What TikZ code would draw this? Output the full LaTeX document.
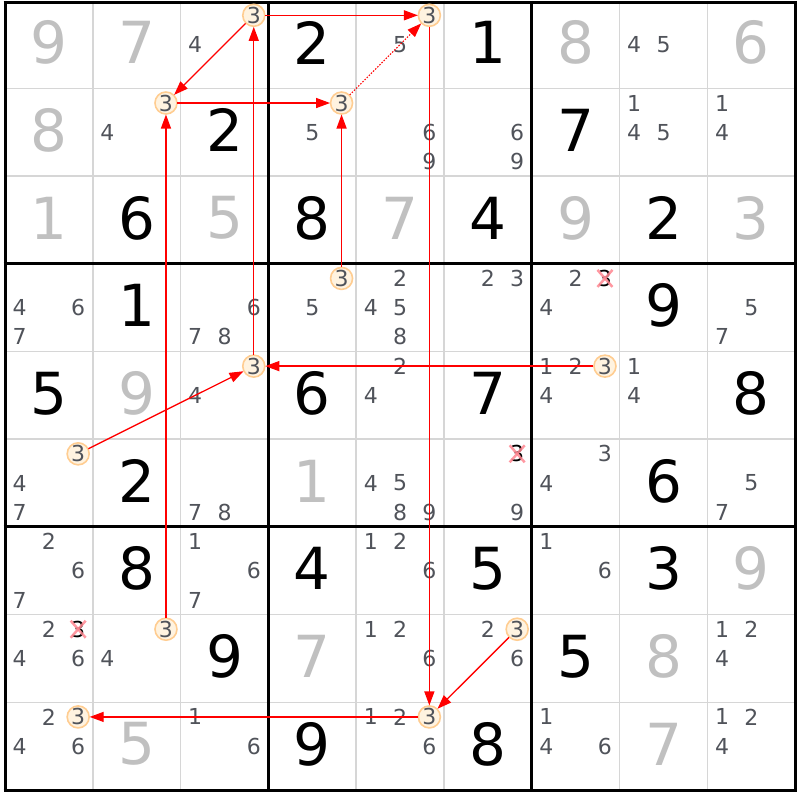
\documentclass[tikz,border=0pt]{standalone}
\usepackage{fontspec}
\setmainfont{DejaVu Sans}
\usetikzlibrary{arrows.meta}
\definecolor{candc}{RGB}{80,83,90}
\definecolor{solc}{RGB}{192,192,192}
\definecolor{thinc}{RGB}{214,214,214}
\definecolor{hlfill}{RGB}{255,243,224}
\definecolor{hldraw}{RGB}{255,205,145}
\definecolor{xc}{RGB}{255,135,145}
\definecolor{linkc}{RGB}{255,0,0}
\newcommand\sdkW{87.8}
\newcommand\sdkH{87.7}
\tikzset{
  given/.style={font=\fontsize{58}{58}\selectfont, text=black, inner sep=0pt},
  solved/.style={given, text=solc},
  cand/.style={font=\fontsize{22}{22}\selectfont, text=candc, inner sep=0pt},
  hl/.style={cand, circle, draw=hldraw, fill=hlfill, line width=1.6pt, minimum size=22pt, inner sep=0pt, outer sep=0.5pt},
  elim/.style={cand, text=black},
  xmark/.style={draw=xc, line width=2.5pt, opacity=0.85},
  link/.style={draw=linkc, line width=1.3pt, -{Triangle[length=14pt,width=10pt]}},
  weak/.style={link, line width=1.1pt, dash pattern=on 1.5pt off 1.5pt},
  thinline/.style={draw=thinc, line width=1.6pt},
  thickline/.style={draw=black, line width=3pt},
}
\newcommand\sdkBig[4]{\node[#1] (v-#2-#3) at ({5+\sdkW*(#3-0.5)},{0.7+\sdkH*(#2-0.5)-2}) {#4};}
\newcommand\sdkCands[3]{%
  \foreach \d in {#3} {
    \pgfmathtruncatemacro\cx{mod(\d-1,3)}
    \pgfmathtruncatemacro\cy{div(\d-1,3)}
    \node[cand] (c-#1-#2-\d) at ({5+\sdkW*(#2-1)+\sdkW*(2*\cx+1)/6},{0.7+\sdkH*(#1-1)+\sdkH*(2*\cy+1)/6}) {\d};
  }}
\newcommand\sdkHL[2]{\node[hl] (h-#1-#2) at ({5+\sdkW*(#2-1)+\sdkW*5/6},{0.7+\sdkH*(#1-1)+\sdkH/6}) {3};}
\newcommand\sdkX[2]{%
  \node[elim] (x-#1-#2) at ({5+\sdkW*(#2-1)+\sdkW*5/6},{0.7+\sdkH*(#1-1)+\sdkH/6}) {3};
  \draw[xmark] ([shift={(-7.5,-8.5)}]x-#1-#2.center) -- ([shift={(7.5,8.5)}]x-#1-#2.center);
  \draw[xmark] ([shift={(-7.5,8.5)}]x-#1-#2.center) -- ([shift={(7.5,-8.5)}]x-#1-#2.center);}
\begin{document}
\begin{tikzpicture}[x=1pt,y=-1pt]
\fill[white] (0,0) rectangle (800,800);
\useasboundingbox (0,0) rectangle (800,800);
% thin grid
\foreach \i in {1,2,4,5,7,8} {
  \draw[thinline] ({5+\sdkW*\i},0.7) -- ({5+\sdkW*\i},790);
  \draw[thinline] (5,{0.7+\sdkH*\i}) -- (795.2,{0.7+\sdkH*\i});
}
% thick grid
\foreach \i in {0,3,6,9} {
  \draw[thickline] ({5+\sdkW*\i},1) -- ({5+\sdkW*\i},791.5);
}
\draw[thickline] (3.5,2.5) -- (796.7,2.5);
\foreach \i in {3,6,9} {
  \draw[thickline] (3.5,{0.7+\sdkH*\i}) -- (796.7,{0.7+\sdkH*\i});
}
% big digits
\sdkBig{solved}{1}{1}{9}\sdkBig{solved}{1}{2}{7}\sdkBig{given}{1}{4}{2}\sdkBig{given}{1}{6}{1}\sdkBig{solved}{1}{7}{8}\sdkBig{solved}{1}{9}{6}
\sdkBig{solved}{2}{1}{8}\sdkBig{given}{2}{3}{2}\sdkBig{given}{2}{7}{7}
\sdkBig{solved}{3}{1}{1}\sdkBig{given}{3}{2}{6}\sdkBig{solved}{3}{3}{5}\sdkBig{given}{3}{4}{8}\sdkBig{solved}{3}{5}{7}\sdkBig{given}{3}{6}{4}\sdkBig{solved}{3}{7}{9}\sdkBig{given}{3}{8}{2}\sdkBig{solved}{3}{9}{3}
\sdkBig{given}{4}{2}{1}\sdkBig{given}{4}{8}{9}
\sdkBig{given}{5}{1}{5}\sdkBig{solved}{5}{2}{9}\sdkBig{given}{5}{4}{6}\sdkBig{given}{5}{6}{7}\sdkBig{given}{5}{9}{8}
\sdkBig{given}{6}{2}{2}\sdkBig{solved}{6}{4}{1}\sdkBig{given}{6}{8}{6}
\sdkBig{given}{7}{2}{8}\sdkBig{given}{7}{4}{4}\sdkBig{given}{7}{6}{5}\sdkBig{given}{7}{8}{3}\sdkBig{solved}{7}{9}{9}
\sdkBig{given}{8}{3}{9}\sdkBig{solved}{8}{4}{7}\sdkBig{given}{8}{7}{5}\sdkBig{solved}{8}{8}{8}
\sdkBig{solved}{9}{2}{5}\sdkBig{given}{9}{4}{9}\sdkBig{given}{9}{6}{8}\sdkBig{solved}{9}{8}{7}
% candidates
\sdkCands{1}{3}{4}\sdkCands{1}{5}{5}\sdkCands{1}{8}{4,5}
\sdkCands{2}{2}{4}\sdkCands{2}{4}{5}\sdkCands{2}{5}{6,9}\sdkCands{2}{6}{6,9}\sdkCands{2}{8}{1,4,5}\sdkCands{2}{9}{1,4}
\sdkCands{4}{1}{4,6,7}\sdkCands{4}{3}{6,7,8}\sdkCands{4}{4}{5}\sdkCands{4}{5}{2,4,5,8}\sdkCands{4}{6}{2,3}\sdkCands{4}{7}{2,4}\sdkCands{4}{9}{5,7}
\sdkCands{5}{3}{4}\sdkCands{5}{5}{2,4}\sdkCands{5}{7}{1,2,4}\sdkCands{5}{8}{1,4}
\sdkCands{6}{1}{4,7}\sdkCands{6}{3}{7,8}\sdkCands{6}{5}{4,5,8,9}\sdkCands{6}{6}{9}\sdkCands{6}{7}{3,4}\sdkCands{6}{9}{5,7}
\sdkCands{7}{1}{2,6,7}\sdkCands{7}{3}{1,6,7}\sdkCands{7}{5}{1,2,6}\sdkCands{7}{7}{1,6}
\sdkCands{8}{1}{2,4,6}\sdkCands{8}{2}{4}\sdkCands{8}{5}{1,2,6}\sdkCands{8}{6}{2,6}\sdkCands{8}{9}{1,2,4}
\sdkCands{9}{1}{2,4,6}\sdkCands{9}{3}{1,6}\sdkCands{9}{5}{1,2,6}\sdkCands{9}{7}{1,4,6}\sdkCands{9}{9}{1,2,4}
% eliminated
\sdkX{4}{7}\sdkX{6}{6}\sdkX{8}{1}
% highlighted
\sdkHL{1}{3}\sdkHL{1}{5}\sdkHL{2}{2}\sdkHL{2}{4}\sdkHL{4}{4}\sdkHL{5}{3}
\sdkHL{5}{7}\sdkHL{6}{1}\sdkHL{8}{2}\sdkHL{8}{6}\sdkHL{9}{1}\sdkHL{9}{5}
% links
\draw[link] (h-1-3) -- (h-1-5);
\draw[weak] (h-2-4) -- (h-1-5);
\draw[link] (h-1-3) -- (h-2-2);
\draw[link] (h-2-2) -- (h-2-4);
\draw[link] (h-8-2) -- (h-2-2);
\draw[link] (h-5-3) -- (h-1-3);
\draw[link] (h-4-4) -- (h-2-4);
\draw[link] (h-1-5) -- (h-9-5);
\draw[link] (h-8-6) -- (h-9-5);
\draw[link] (h-9-5) -- (h-9-1);
\draw[link] (h-5-7) -- (h-5-3);
\draw[link] (h-6-1) -- (h-5-3);
\end{tikzpicture}
\end{document}
